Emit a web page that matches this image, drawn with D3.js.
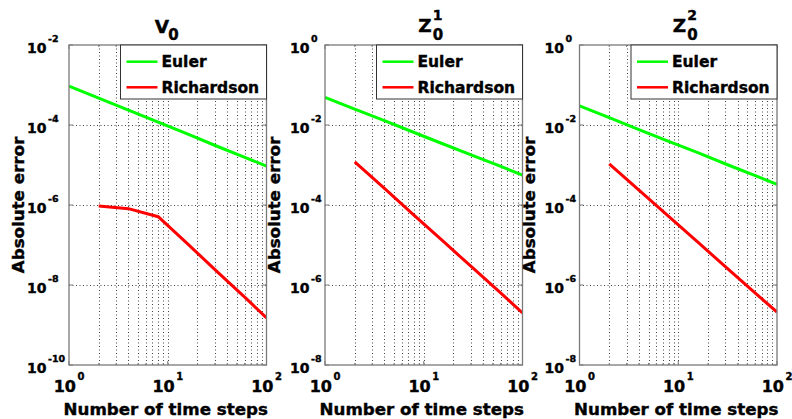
<!DOCTYPE html>
<html>
<head>
<meta charset="utf-8">
<script src="https://cdn.jsdelivr.net/npm/d3@7"></script>
<style>
    body { margin: 0; background: #fff; }
    svg { display: block; font-family: "DejaVu Sans", sans-serif; font-weight: bold; }
    svg text { stroke: #000; stroke-width: 0.4px; }
</style>
</head>
<body>
<div id="chart"></div>
<script>
// number of time steps
var eulerSteps = [1, 2, 4, 8, 16, 32, 64, 100];
var richSteps = [2, 4, 8, 16, 32, 64, 100];

// absolute error, V_0
var v0Euler = [9.4e-4, 4.7e-4, 2.35e-4, 1.18e-4, 5.9e-5, 2.9e-5, 1.47e-5, 9.4e-6];
var v0Rich = [9.4e-7, 8.1e-7, 5.1e-7, 1.05e-7, 2.1e-8, 4.3e-9, 1.5e-9];

// absolute error, Z_0^1
var z1Euler = [0.049, 0.025, 0.0128, 6.5e-3, 3.3e-3, 1.7e-3, 8.7e-4, 5.6e-4];
var z1Rich = [1.2e-3, 2.6e-4, 5.5e-5, 1.19e-5, 2.55e-6, 5.5e-7, 2.0e-7];

// absolute error, Z_0^2
var z2Euler = [0.030, 0.0152, 7.7e-3, 3.9e-3, 2.0e-3, 1.0e-3, 5.1e-4, 3.3e-4];
var z2Rich = [1.06e-3, 2.34e-4, 5.2e-5, 1.14e-5, 2.5e-6, 5.5e-7, 2.1e-7];

var xTicks = [1, 10, 100];
var xTickExp = ['0', '1', '2'];
var yTicksV = [1e-2, 1e-4, 1e-6, 1e-8, 1e-10];
var yTickExpV = ['-2', '-4', '-6', '-8', '-10'];
var yTicksZ = [1, 1e-2, 1e-4, 1e-6, 1e-8];
var yTickExpZ = ['0', '-2', '-4', '-6', '-8'];

var seriesNames = ['Euler', 'Richardson'];
var seriesColors = ['#00ff00', '#ff0000'];

var panels = [
    {left: 69, base: 'V', sup: null, sub: '0', yDomain: [1e-10, 1e-2], ticks: yTicksV, exps: yTickExpV,
        euler: v0Euler, rich: v0Rich, labelOffset: 42},
    {left: 325, base: 'Z', sup: '1', sub: '0', yDomain: [1e-8, 1], ticks: yTicksZ, exps: yTickExpZ,
        euler: z1Euler, rich: z1Rich, labelOffset: 35},
    {left: 579.5, base: 'Z', sup: '2', sub: '0', yDomain: [1e-8, 1], ticks: yTicksZ, exps: yTickExpZ,
        euler: z2Euler, rich: z2Rich, labelOffset: 35}
];

var W = 792, H = 419;
var plotW = 197.5, plotTop = 45, plotBottom = 365;

var svg = d3.select('#chart').append('svg')
    .attr('width', W)
    .attr('height', H);

var minorX = [];
[1, 10].forEach(function (dec) {
    for (var k = 2; k <= 9; k++) minorX.push(dec * k);
});

panels.forEach(function (p, pi) {
    var x = d3.scaleLog().domain([1, 100]).range([p.left, p.left + plotW]);
    var y = d3.scaleLog().domain(p.yDomain).range([plotBottom, plotTop]);
    var right = p.left + plotW;
    var cx = (p.left + right) / 2;
    var g = svg.append('g');

    g.append('clipPath').attr('id', 'clip' + pi)
        .append('rect')
        .attr('x', p.left).attr('y', plotTop)
        .attr('width', plotW).attr('height', plotBottom - plotTop);

    // grid
    var grid = g.append('g')
        .attr('stroke', '#444')
        .attr('stroke-width', 1)
        .attr('stroke-dasharray', '1,2.5');
    grid.selectAll('.vx')
        .data(minorX.concat([10]))
        .enter().append('line')
        .attr('x1', function (d) { return Math.round(x(d)) + 0.5; })
        .attr('x2', function (d) { return Math.round(x(d)) + 0.5; })
        .attr('y1', plotTop).attr('y2', plotBottom);
    grid.selectAll('.hy')
        .data(p.ticks.slice(1, -1))
        .enter().append('line')
        .attr('x1', p.left).attr('x2', right)
        .attr('y1', function (d) { return Math.round(y(d)) + 0.5; })
        .attr('y2', function (d) { return Math.round(y(d)) + 0.5; });

    // tick marks
    var tk = g.append('g').attr('stroke', '#7a7a7a').attr('stroke-width', 1);
    xTicks.forEach(function (t) {
        tk.append('line').attr('x1', x(t)).attr('x2', x(t)).attr('y1', plotBottom).attr('y2', plotBottom - 4);
        tk.append('line').attr('x1', x(t)).attr('x2', x(t)).attr('y1', plotTop).attr('y2', plotTop + 4);
    });
    minorX.forEach(function (t) {
        tk.append('line').attr('x1', x(t)).attr('x2', x(t)).attr('y1', plotBottom).attr('y2', plotBottom - 2);
        tk.append('line').attr('x1', x(t)).attr('x2', x(t)).attr('y1', plotTop).attr('y2', plotTop + 2);
    });
    p.ticks.forEach(function (t) {
        tk.append('line').attr('x1', p.left).attr('x2', p.left + 4).attr('y1', y(t)).attr('y2', y(t));
        tk.append('line').attr('x1', right).attr('x2', right - 4).attr('y1', y(t)).attr('y2', y(t));
    });

    // lines
    var line = d3.line()
        .x(function (d) { return x(d[0]); })
        .y(function (d) { return y(d[1]); });
    var lines = g.append('g').attr('clip-path', 'url(#clip' + pi + ')');
    lines.append('path')
        .attr('d', line(d3.zip(eulerSteps, p.euler)))
        .attr('fill', 'none')
        .attr('stroke', seriesColors[0])
        .attr('stroke-width', 3);
    lines.append('path')
        .attr('d', line(d3.zip(richSteps, p.rich)))
        .attr('fill', 'none')
        .attr('stroke', seriesColors[1])
        .attr('stroke-width', 3);

    // axes box
    g.append('rect')
        .attr('x', p.left).attr('y', plotTop)
        .attr('width', plotW).attr('height', plotBottom - plotTop)
        .attr('fill', 'none')
        .attr('stroke', '#7a7a7a')
        .attr('stroke-width', 1.3);

    // legend
    var lg = g.append('g');
    lg.append('rect')
        .attr('x', right - 146).attr('y', plotTop)
        .attr('width', 146).attr('height', 54)
        .attr('fill', '#fff')
        .attr('stroke', '#333')
        .attr('stroke-width', 1);
    seriesNames.forEach(function (name, i) {
        var ly = plotTop + 16.7 + i * 25.6;
        lg.append('line')
            .attr('x1', right - 140).attr('x2', right - 109)
            .attr('y1', ly).attr('y2', ly)
            .attr('stroke', seriesColors[i])
            .attr('stroke-width', 2.5);
        lg.append('text')
            .attr('x', right - 105).attr('y', ly + 5.2)
            .style('font-size', '15.5px')
            .attr('fill', '#000')
            .text(name);
    });

    // x tick labels
    xTicks.forEach(function (t, i) {
        var txt = g.append('text')
            .attr('x', x(t)).attr('y', 392)
            .attr('text-anchor', 'middle')
            .attr('fill', '#000');
        txt.append('tspan').style('font-size', '16px').text('10');
        txt.append('tspan').attr('dx', 1.5).attr('dy', -12).style('font-size', '10px').text(xTickExp[i]);
    });

    // y tick labels
    p.ticks.forEach(function (t, i) {
        var txt = g.append('text')
            .attr('x', p.left - p.labelOffset).attr('y', y(t) + 7.5)
            .attr('fill', '#000');
        txt.append('tspan').style('font-size', '14px').text('10');
        txt.append('tspan').attr('dx', 1.5).attr('dy', -10.5).style('font-size', '9.5px').text(p.exps[i]);
    });

    // axis labels
    g.append('text')
        .attr('x', cx - 2).attr('y', 415)
        .attr('text-anchor', 'middle')
        .style('font-size', '16.7px')
        .attr('fill', '#000')
        .text('Number of time steps');
    g.append('text')
        .attr('transform', 'translate(' + (p.left - 45) + ',' + ((plotTop + plotBottom) / 2) + ') rotate(-90)')
        .attr('text-anchor', 'middle')
        .style('font-size', '16.7px')
        .attr('fill', '#000')
        .text('Absolute error');

    // title
    if (p.sup) {
        g.append('text').attr('x', cx - 5.5).attr('y', 31.7)
            .style('font-size', '18.5px').attr('fill', '#000').text(p.base);
        g.append('text').attr('x', cx + 9).attr('y', 20)
            .style('font-size', '14px').attr('fill', '#000').text(p.sup);
        g.append('text').attr('x', cx + 9).attr('y', 40)
            .style('font-size', '15px').attr('fill', '#000').text(p.sub);
    } else {
        g.append('text').attr('x', cx - 13).attr('y', 33.3)
            .style('font-size', '18.5px').attr('fill', '#000').text(p.base);
        g.append('text').attr('x', cx + 0.5).attr('y', 40)
            .style('font-size', '15px').attr('fill', '#000').text(p.sub);
    }
});
</script>
</body>
</html>
